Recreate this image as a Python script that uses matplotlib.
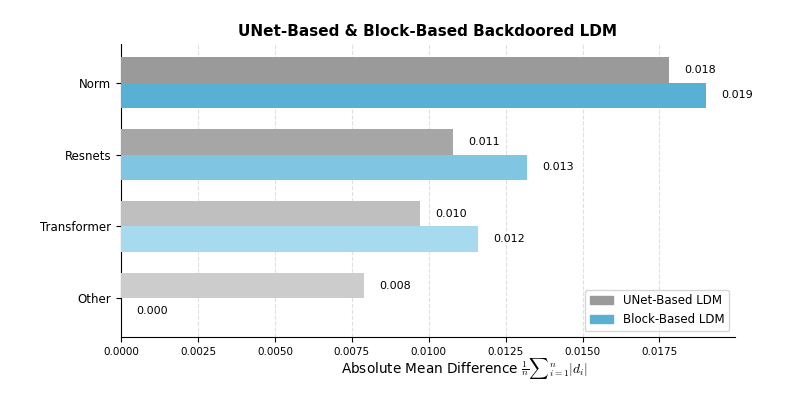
import numpy as np
import matplotlib.pyplot as plt

plt.rcParams["mathtext.fontset"] = "cm"

categories = ["Norm", "Resnets", "Transformer", "Other"]
unet_values = [0.0178, 0.0108, 0.0097, 0.0079]
block_values = [0.0190, 0.0132, 0.0116, 0.0]

unet_colors = ["#9a9a9a", "#a6a6a6", "#bfbfbf", "#cccccc"]
block_colors = ["#58b0d4", "#80c6e2", "#a8daef", "#cde9f5"]


def main():
    fig, ax = plt.subplots(figsize=(7.97, 4.01), dpi=100)
    fig.subplots_adjust(left=0.152, right=0.922, top=0.89, bottom=0.16)

    y = np.arange(len(categories))
    h = 0.35

    ax.barh(y - h / 2, unet_values, height=h, color=unet_colors,
            label="UNet-Based LDM", zorder=3)
    ax.barh(y + h / 2, block_values, height=h, color=block_colors,
            label="Block-Based LDM", zorder=3)

    offset = 0.0005
    for i in range(len(categories)):
        ax.text(unet_values[i] + offset, y[i] - h / 2, f"{unet_values[i]:.3f}",
                va="center", ha="left", fontsize=8)
        ax.text(block_values[i] + offset, y[i] + h / 2, f"{block_values[i]:.3f}",
                va="center", ha="left", fontsize=8)

    ax.set_yticks(y)
    ax.set_yticklabels(categories, fontsize=8.5)
    ax.invert_yaxis()
    ax.set_xlim(0, max(block_values) * 1.05)
    ax.tick_params(axis="x", labelsize=7.5)

    ax.spines["top"].set_visible(False)
    ax.spines["right"].set_visible(False)
    ax.grid(axis="x", linestyle="--", color="#e0e0e0", linewidth=0.8, zorder=0)

    ax.set_xlabel(r"Absolute Mean Difference $\frac{1}{n}{\sum}_{i=1}^{n}|d_i|$",
                  fontsize=9.8, labelpad=2)
    ax.xaxis.set_label_coords(0.56, -0.064)
    ax.set_title("UNet-Based & Block-Based Backdoored LDM", fontsize=11,
                 fontweight="bold")

    leg = ax.legend(loc="lower right", fontsize=8.5)
    leg.legend_handles[0].set_color("#9a9a9a")
    leg.legend_handles[1].set_color("#58b0d4")

    fig.savefig("out.png")


main()
